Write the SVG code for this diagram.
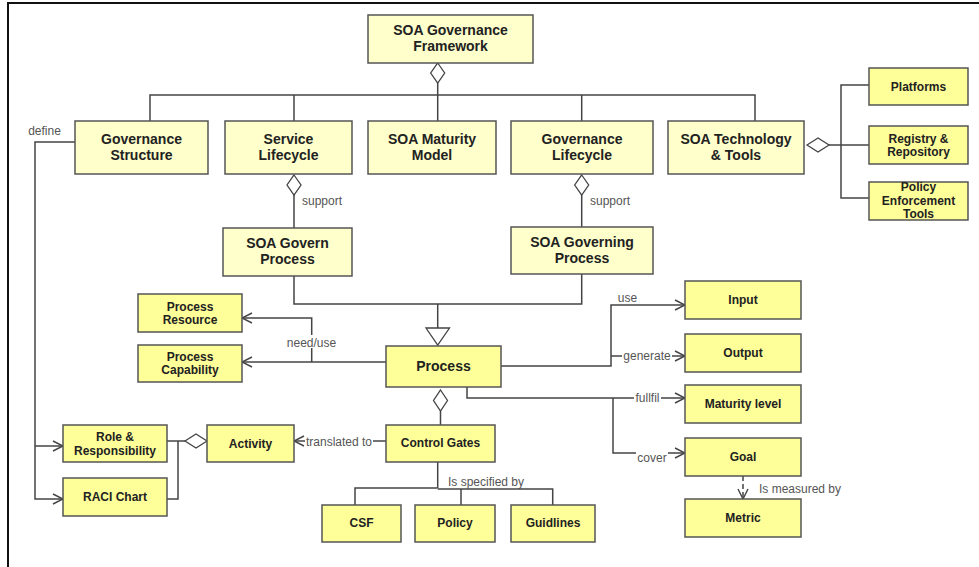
<svg xmlns="http://www.w3.org/2000/svg" width="979" height="567" viewBox="0 0 979 567">
<style>
.n1{fill:#FFFFCC;stroke:#555;stroke-width:1.5}
.n2{fill:#FFFF99;stroke:#555;stroke-width:1.5}
.t14{font-family:"Liberation Sans",Arial,sans-serif;font-size:14px;font-weight:bold;fill:#222;text-anchor:middle}
.t12{font-family:"Liberation Sans",Arial,sans-serif;font-size:12px;font-weight:bold;fill:#222;text-anchor:middle}
.lb{font-family:"Liberation Sans",Arial,sans-serif;font-size:12px;fill:#555}
.c{fill:none;stroke:#444;stroke-width:1.5}
.dia{fill:#fff;stroke:#444;stroke-width:1.3}
.bg{fill:#fff}
</style>
<defs>
<marker id="arr" viewBox="0 0 12 12" refX="11" refY="6" markerWidth="12" markerHeight="12" markerUnits="userSpaceOnUse" orient="auto">
<path d="M1,1 L11,6 L1,11" fill="none" stroke="#444" stroke-width="1.4"/>
</marker>
</defs>
<rect x="0" y="0" width="979" height="567" fill="#fff"/>
<path d="M8,567 V3 H979" fill="none" stroke="#111" stroke-width="2"/>

<g id="connectors">
<!-- framework tree -->
<path class="c" d="M437.7,83 V121"/>
<path class="c" d="M150,121 V95 H755 V121"/>
<path class="c" d="M294,95 V121"/>
<path class="c" d="M581.7,95 V121"/>
<polygon class="dia" points="437.7,63 444.7,73 437.7,83 430.7,73"/>
<!-- tools -->
<path class="c" d="M829,145 H869"/>
<path class="c" d="M869,85 H841 V198 H869"/>
<polygon class="dia" points="807,145 818,138 829,145 818,152"/>
<!-- support -->
<path class="c" d="M294,195 V228"/>
<polygon class="dia" points="294,175 301,185 294,195 287,185"/>
<path class="c" d="M581.7,195 V227"/>
<polygon class="dia" points="581.7,175 588.7,185 581.7,195 574.7,185"/>
<!-- generalization -->
<path class="c" d="M294,276 V304 H581.7 V274"/>
<path class="c" d="M437.7,304 V328"/>
<polygon class="dia" points="426,328 449.5,328 437.7,345"/>
<!-- need/use -->
<path class="c" d="M386,362 H242" marker-end="url(#arr)"/>
<path class="c" d="M311.7,362 V318 H242" marker-end="url(#arr)"/>
<rect class="bg" x="286" y="335" width="51" height="13"/>
<text class="lb" x="311.5" y="347" text-anchor="middle">need/use</text>
<!-- use / generate -->
<path class="c" d="M501,366 H611 V305 H685" marker-end="url(#arr)"/>
<path class="c" d="M611,356 H685" marker-end="url(#arr)"/>
<rect class="bg" x="617" y="293" width="21" height="11"/>
<text class="lb" x="627.5" y="302" text-anchor="middle">use</text>
<rect class="bg" x="622" y="349" width="50" height="13"/>
<text class="lb" x="647" y="359.5" text-anchor="middle">generate</text>
<!-- fullfil / cover -->
<path class="c" d="M467,387 V398 H685" marker-end="url(#arr)"/>
<path class="c" d="M613,398 V453 H685" marker-end="url(#arr)"/>
<rect class="bg" x="634" y="391" width="27" height="13"/>
<text class="lb" x="647.5" y="401.5" text-anchor="middle">fullfil</text>
<rect class="bg" x="636" y="451" width="32" height="13"/>
<text class="lb" x="652" y="462" text-anchor="middle">cover</text>
<!-- measured -->
<path class="c" d="M743,476 V499" stroke-dasharray="5,3" marker-end="url(#arr)"/>
<text class="lb" x="759" y="492.5">Is measured by</text>
<!-- control gates -->
<path class="c" d="M440.5,411 V425"/>
<polygon class="dia" points="440.5,390 447.5,400.5 440.5,411 433.5,400.5"/>
<path class="c" d="M386,441 H294" marker-end="url(#arr)"/>
<rect class="bg" x="305" y="435" width="68" height="13"/>
<text class="lb" x="339" y="445.5" text-anchor="middle">translated to</text>
<path class="c" d="M437.7,462 V488"/>
<path class="c" d="M355,505 V488 H437.7"/>
<path class="c" d="M437.7,489 H552.7 V505"/>
<path class="c" d="M461,489 V505"/>
<text class="lb" x="486" y="485.5" text-anchor="middle">Is specified by</text>
<!-- role / activity -->
<path class="c" d="M167,441 H185"/>
<path class="c" d="M178,441 V499 H167"/>
<polygon class="dia" points="185,441 196,434 207,441 196,448"/>
<!-- define -->
<path class="c" d="M75,142 H35 V499 H63" marker-end="url(#arr)"/>
<path class="c" d="M35,446 H63" marker-end="url(#arr)"/>
<text class="lb" x="44.5" y="135" text-anchor="middle">define</text>
<!-- support labels -->
<text class="lb" x="302" y="205">support</text>
<text class="lb" x="590" y="205">support</text>
</g>

<g id="framework"><rect class="n1" x="368" y="15" width="165" height="48"/><text class="t14" x="450.5" y="35">SOA Governance</text><text class="t14" x="450.5" y="51">Framework</text></g>
<g id="gov-structure"><rect class="n1" x="75" y="121" width="133" height="53"/><text class="t14" x="141.5" y="144">Governance</text><text class="t14" x="141.5" y="160">Structure</text></g>
<g id="service-lifecycle"><rect class="n1" x="225" y="121" width="127" height="53"/><text class="t14" x="288.5" y="144">Service</text><text class="t14" x="288.5" y="160">Lifecycle</text></g>
<g id="maturity-model"><rect class="n1" x="368" y="121" width="128" height="53"/><text class="t14" x="432" y="144">SOA Maturity</text><text class="t14" x="432" y="160">Model</text></g>
<g id="gov-lifecycle"><rect class="n1" x="511" y="121" width="142" height="53"/><text class="t14" x="582" y="144">Governance</text><text class="t14" x="582" y="160">Lifecycle</text></g>
<g id="tech-tools"><rect class="n1" x="668" y="121" width="136" height="53"/><text class="t14" x="736" y="144">SOA Technology</text><text class="t14" x="736" y="160">&amp; Tools</text></g>
<g id="platforms"><rect class="n2" x="869" y="68" width="99" height="37"/><text class="t12" x="918.5" y="90.5">Platforms</text></g>
<g id="registry"><rect class="n2" x="869" y="126" width="99" height="38"/><text class="t12" x="918.5" y="142.5">Registry &amp;</text><text class="t12" x="918.5" y="155.5">Repository</text></g>
<g id="policy-tools"><rect class="n2" x="869" y="182" width="99" height="38"/><text class="t12" x="918.5" y="191">Policy</text><text class="t12" x="918.5" y="204.5">Enforcement</text><text class="t12" x="918.5" y="218">Tools</text></g>
<g id="govern-process"><rect class="n1" x="223" y="228" width="129" height="48"/><text class="t14" x="287.5" y="247.5">SOA Govern</text><text class="t14" x="287.5" y="264">Process</text></g>
<g id="governing-process"><rect class="n1" x="511" y="227" width="142" height="47"/><text class="t14" x="582" y="246.5">SOA Governing</text><text class="t14" x="582" y="262.5">Process</text></g>
<g id="process-resource"><rect class="n2" x="138" y="294" width="104" height="38"/><text class="t12" x="190" y="310.5">Process</text><text class="t12" x="190" y="323.8">Resource</text></g>
<g id="process-capability"><rect class="n2" x="138" y="345" width="104" height="37"/><text class="t12" x="190" y="360.5">Process</text><text class="t12" x="190" y="373.8">Capability</text></g>
<g id="process"><rect class="n2" x="386" y="346" width="115" height="41"/><text class="t14" x="443.5" y="371">Process</text></g>
<g id="input"><rect class="n2" x="685" y="281" width="116" height="38"/><text class="t12" x="743" y="303.5">Input</text></g>
<g id="output"><rect class="n2" x="685" y="334" width="116" height="38"/><text class="t12" x="743" y="356.5">Output</text></g>
<g id="maturity-level"><rect class="n2" x="685" y="385" width="116" height="38"/><text class="t12" x="743" y="408">Maturity level</text></g>
<g id="goal"><rect class="n2" x="685" y="438" width="116" height="38"/><text class="t12" x="743" y="460.5">Goal</text></g>
<g id="metric"><rect class="n2" x="685" y="499" width="116" height="38"/><text class="t12" x="743" y="521.5">Metric</text></g>
<g id="role"><rect class="n2" x="63" y="425" width="104" height="37"/><text class="t12" x="115" y="440.5">Role &amp;</text><text class="t12" x="115" y="454.5">Responsibility</text></g>
<g id="raci"><rect class="n2" x="63" y="478" width="104" height="38"/><text class="t12" x="115" y="500.5">RACI Chart</text></g>
<g id="activity"><rect class="n2" x="207" y="425" width="87" height="37"/><text class="t12" x="250.5" y="447.5">Activity</text></g>
<g id="control-gates"><rect class="n2" x="386" y="425" width="109" height="37"/><text class="t12" x="440.5" y="447">Control Gates</text></g>
<g id="csf"><rect class="n2" x="322" y="505" width="79" height="37"/><text class="t12" x="361.5" y="527">CSF</text></g>
<g id="policy"><rect class="n2" x="415" y="505" width="80" height="37"/><text class="t12" x="455" y="527">Policy</text></g>
<g id="guidlines"><rect class="n2" x="511" y="505" width="84" height="37"/><text class="t12" x="553" y="527">Guidlines</text></g>
</svg>
